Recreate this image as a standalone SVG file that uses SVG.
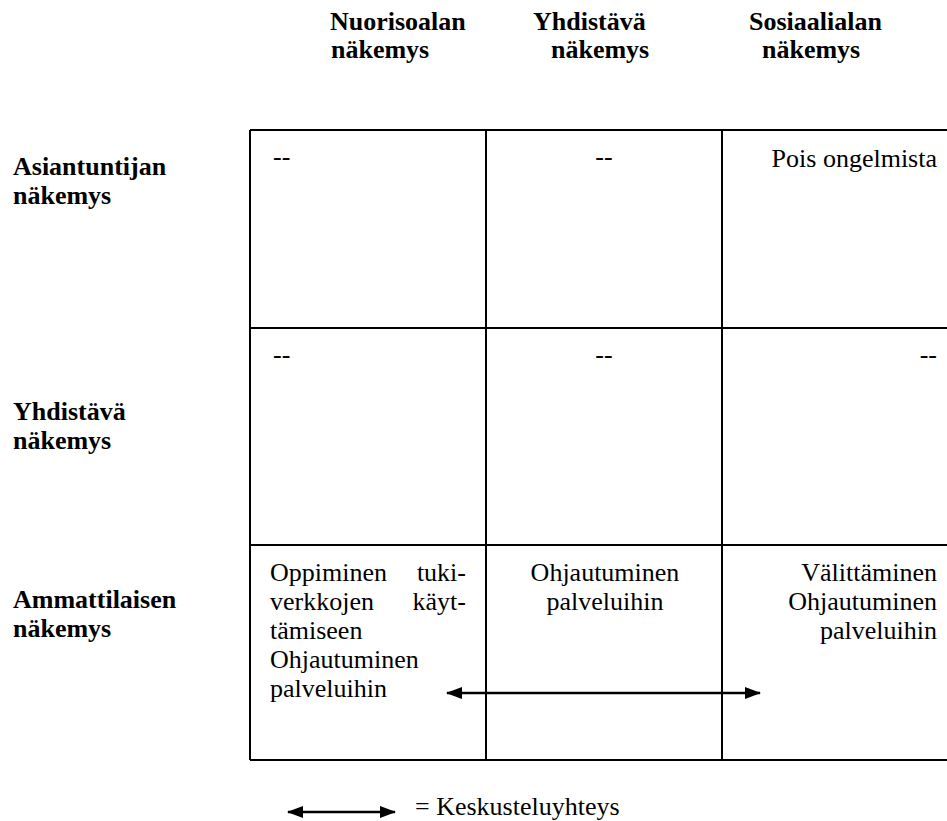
<svg xmlns="http://www.w3.org/2000/svg" width="947" height="821" viewBox="0 0 947 821">
<style>
.t{font-family:"Liberation Serif","Times New Roman",serif;font-size:26px;fill:#000}
.b{font-weight:bold}
.m{text-anchor:middle}
.e{text-anchor:end}
.g{stroke:#000;stroke-width:2;fill:none}
.c{stroke:#000;stroke-width:2.5;fill:none}
</style>
<defs>
<marker id="ah" viewBox="0 0 16 12" refX="15" refY="6" markerWidth="16" markerHeight="12" markerUnits="userSpaceOnUse" orient="auto-start-reverse">
<path d="M0,0 L16,6 L0,12 Z" fill="#000"/>
</marker>
</defs>
<rect width="947" height="821" fill="#fff"/>
<g id="col-headers">
<g id="h-nuoriso"><text class="t b" x="330" y="30">Nuorisoalan</text><text class="t b" x="331" y="58">näkemys</text></g>
<g id="h-yhd"><text class="t b" x="533" y="30">Yhdistävä</text><text class="t b" x="551" y="58">näkemys</text></g>
<g id="h-sos"><text class="t b" x="749" y="30">Sosiaalialan</text><text class="t b" x="762" y="58">näkemys</text></g>
</g>
<g id="row-headers">
<g id="r-asiant"><text class="t b" x="13" y="175">Asiantuntijan</text><text class="t b" x="13" y="204">näkemys</text></g>
<g id="r-yhd"><text class="t b" x="13" y="420">Yhdistävä</text><text class="t b" x="13" y="449">näkemys</text></g>
<g id="r-amm"><text class="t b" x="13" y="608">Ammattilaisen</text><text class="t b" x="13" y="637">näkemys</text></g>
</g>
<g id="table">
<path class="g" d="M250,130 H947 M250,328 H947 M250,545 H947 M250,760 H947 M250,130 V760 M486,130 V760 M722,130 V760"/>
</g>
<g id="cells">
<g id="c11"><text class="t" x="273" y="165">--</text></g>
<g id="c12"><text class="t m" x="604" y="165">--</text></g>
<g id="c13"><text class="t e" x="937" y="167">Pois ongelmista</text></g>
<g id="c21"><text class="t" x="273" y="363">--</text></g>
<g id="c22"><text class="t m" x="604" y="363">--</text></g>
<g id="c23"><text class="t e" x="937" y="363">--</text></g>
<g id="c31">
<text class="t" x="270" y="581">Oppiminen</text><text class="t e" x="466" y="581">tuki-</text>
<text class="t" x="270" y="610">verkkojen</text><text class="t e" x="466" y="610">käyt-</text>
<text class="t" x="270" y="639">tämiseen</text>
<text class="t" x="270" y="668">Ohjautuminen</text>
<text class="t" x="270" y="697">palveluihin</text>
</g>
<g id="c32"><text class="t m" x="605" y="581">Ohjautuminen</text><text class="t m" x="605" y="610">palveluihin</text></g>
<g id="c33"><text class="t e" x="937" y="581">Välittäminen</text><text class="t e" x="937" y="610">Ohjautuminen</text><text class="t e" x="937" y="639">palveluihin</text></g>
</g>
<g id="connectors">
<line class="c" x1="447" y1="693" x2="760" y2="693" marker-start="url(#ah)" marker-end="url(#ah)"/>
</g>
<g id="legend">
<line class="c" x1="288" y1="812" x2="395" y2="812" marker-start="url(#ah)" marker-end="url(#ah)"/>
<text class="t" x="415" y="815">= Keskusteluyhteys</text>
</g>
</svg>
